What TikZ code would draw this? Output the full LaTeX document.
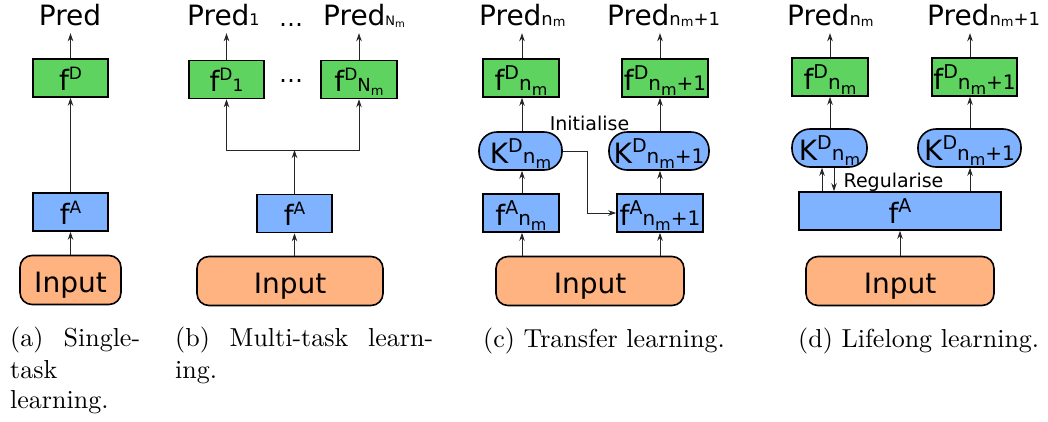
\documentclass[tikz,border=0pt]{standalone}
\usepackage{fontspec}
\newfontfamily\dv{DejaVu Sans}
\newfontfamily\cmten{lmroman10-regular.otf}
\usetikzlibrary{arrows.meta}
\definecolor{gD}{HTML}{5FD35F}
\definecolor{bA}{HTML}{80B3FF}
\definecolor{oI}{HTML}{FFB380}
\newcommand{\Sp}[2][17]{\raisebox{11pt}{\fontsize{#1}{#1}\selectfont #2}}
\newcommand{\Sb}[2][17]{{\fontsize{#1}{#1}\selectfont #2}}
\newcommand{\Mm}[2][16]{\raisebox{-5pt}{\fontsize{#1}{#1}\selectfont #2}}
\newcommand{\Mp}[2][13]{\raisebox{-1.5pt}{\fontsize{#1}{#1}\selectfont #2}}
\tikzset{
  box/.style={draw, line width=1.6pt, inner sep=0pt, text height=24pt, text depth=0pt,
    font=\dv\fontsize{28}{28}\selectfont, minimum height=38pt},
  gbox/.style={box, fill=gD},
  abox/.style={box, fill=bA},
  pill/.style={box, fill=bA, rounded corners=18pt},
  inbox/.style={box, fill=oI, rounded corners=12pt, minimum height=49pt},
  pred/.style={font=\dv\fontsize{28}{28}\selectfont, inner xsep=0pt, inner ysep=8pt,
    text depth=0pt, anchor=base west},
  lbl/.style={font=\dv\fontsize{19}{19}\selectfont, inner sep=0pt, anchor=base},
  arr/.style={-{Stealth[length=8pt,width=5.5pt,inset=2.5pt]}, line width=0.9pt, draw=black!85},
  captxt/.style={font=\cmten\fontsize{26}{31}\selectfont, inner sep=0pt, anchor=base west},
}
\begin{document}
\begin{tikzpicture}[x=1pt,y=-1pt]
\useasboundingbox (0,0) rectangle (1048,421);

% ---------- panel a ----------
\node[pred, anchor=base] (predA) at (70,25) {Pred};
\node[gbox, minimum width=75pt] (fDa) at (70.5,78) {f\Sp{D}};
\node[abox, minimum width=75pt] (fAa) at (70.5,212) {f\Sp{A}};
\node[inbox, minimum width=101pt] (inA) at (70.5,280) {Input};
\draw[arr] (inA.north) -- (fAa.south);
\draw[arr] (fAa.north) -- (fDa.south);
\draw[arr] (fDa.north) -- (fDa.north |- predA.south);

% ---------- panel b ----------
\node[pred] (predB1) at (187,25) {Pred\Sb[16]{1}};
\node[font=\dv\fontsize{24}{24}\selectfont, inner sep=0pt, anchor=base] (dotsB1) at (291,26) {…};
\node[pred] (predBN) at (323,25) {Pred\Sb[13]{N}\raisebox{-2pt}{\fontsize{10}{10}\selectfont m}};
\node[gbox, minimum width=75pt] (fDb1) at (226.5,79.5) {f\Sp{D}\Sb{1}};
\node[font=\dv\fontsize{24}{24}\selectfont, inner sep=0pt, anchor=base] (dotsB2) at (291,82) {…};
\node[gbox, minimum width=76pt] (fDbN) at (359,79.5) {f\Sp{D}\Sb[18]{N}\raisebox{-4pt}{\fontsize{13}{13}\selectfont m}};
\node[abox, minimum width=75pt] (fAb) at (294.5,213.5) {f\Sp{A}};
\node[inbox, minimum width=186pt] (inB) at (290,281) {Input};
\coordinate (brB) at (294.5,150);
\draw[arr] (inB.north -| fAb) -- (fAb.south);
\draw[arr] (fAb.north) -- (brB);
\draw[arr] (brB) -| (fDb1.south);
\draw[arr] (brB) -| (fDbN.south);
\draw[arr] (fDb1.north) -- (fDb1.north |- predB1.south);
\draw[arr] (fDbN.north) -- (fDbN.north |- predBN.south);

% ---------- panel c ----------
\coordinate (colC1) at (522,0);
\coordinate (colC2) at (660,0);
\node[pred] (predC1) at (479,25) {Pred\Sb[18]{n}\Mp{m}};
\node[pred] (predC2) at (607,25) {Pred\Sb[18]{n}\Mp{m}\Sb[18]{+1}};
\node[gbox, minimum width=76pt] (fDc1) at (521,78) {f\Sp[19]{D}\Sb[20]{n}\Mm{m}};
\node[gbox, minimum width=86pt] (fDc2) at (665,78) {f\Sp[19]{D}\Sb[20]{n}\Mm{m}\Sb[20]{+1}};
\node[pill, minimum width=83pt] (kC1) at (520.5,151) {K\Sp[19]{D}\Sb[20]{n}\Mm{m}};
\node[pill, minimum width=100pt] (kC2) at (659,151) {K\Sp[19]{D}\Sb[20]{n}\Mm{m}\Sb[20]{+1}};
\node[lbl] (initL) at (589.5,130) {Initialise};
\node[abox, minimum width=76pt] (fAc1) at (521,213) {f\Sp[19]{A}\Sb[20]{n}\Mm{m}};
\node[abox, minimum width=86pt] (fAc2) at (660,213) {f\Sp[19]{A}\Sb[20]{n}\Mm{m}\Sb[20]{+1}};
\node[inbox, minimum width=188pt] (inC) at (590,281) {Input};
\coordinate (cornC) at (587,213);
\draw[arr] (inC.north -| colC1) -- (fAc1.south -| colC1);
\draw[arr] (inC.north -| colC2) -- (fAc2.south -| colC2);
\draw[arr] (fAc1.north -| colC1) -- (kC1.south -| colC1);
\draw[arr] (fAc2.north -| colC2) -- (kC2.south -| colC2);
\draw[arr] (kC1.north -| colC1) -- (fDc1.south -| colC1);
\draw[arr] (kC2.north -| colC2) -- (fDc2.south -| colC2);
\draw[arr] (fDc1.north -| colC1) -- (predC1.south -| colC1);
\draw[arr] (fDc2.north -| colC2) -- (predC2.south -| colC2);
\draw[arr] (kC1.east) -| (cornC) -- (fAc2.west);

% ---------- panel d ----------
\coordinate (colD1) at (830,0);
\coordinate (colD2) at (970,0);
\coordinate (colDu) at (822,0);
\coordinate (colDd) at (834,0);
\node[pred] (predD1) at (787,25) {Pred\Sb[18]{n}\Mp{m}};
\node[pred] (predD2) at (927,25) {Pred\Sb[18]{n}\Mp{m}\Sb[18]{+1}};
\node[gbox, minimum width=76pt] (fDd1) at (830,77) {f\Sp[19]{D}\Sb[20]{n}\Mm{m}};
\node[gbox, minimum width=85pt] (fDd2) at (974.5,77) {f\Sp[19]{D}\Sb[20]{n}\Mm{m}\Sb[20]{+1}};
\node[pill, minimum width=75pt] (kD1) at (829.5,148) {K\Sp[19]{D}\Sb[20]{n}\Mm{m}};
\node[pill, minimum width=103pt] (kD2) at (969.5,148) {K\Sp[19]{D}\Sb[20]{n}\Mm{m}\Sb[20]{+1}};
\node[lbl] (regL) at (893.5,187) {Regularise};
\node[abox, minimum width=202pt] (fAd) at (900,211) {f\Sp[19]{A}};
\node[inbox, minimum width=188pt] (inD) at (900,281) {Input};
\draw[arr] (inD.north) -- (fAd.south);
\draw[arr] (fAd.north -| colDu) -- (kD1.south -| colDu);
\draw[arr] (kD1.south -| colDd) -- (fAd.north -| colDd);
\draw[arr] (fAd.north -| colD2) -- (kD2.south -| colD2);
\draw[arr] (kD1.north -| colD1) -- (fDd1.south -| colD1);
\draw[arr] (kD2.north -| colD2) -- (fDd2.south -| colD2);
\draw[arr] (fDd1.north -| colD1) -- (predD1.south -| colD1);
\draw[arr] (fDd2.north -| colD2) -- (predD2.south -| colD2);

% ---------- captions ----------
\node[captxt] (capA1) at (10,346) {\makebox[130pt][s]{(a) Single-}};
\node[captxt] (capA2) at (10,378) {task};
\node[captxt] (capA3) at (10,408) {learning.};
\node[captxt] (capB1) at (175,346) {\makebox[258pt][s]{(b) Multi-task learn-}};
\node[captxt] (capB2) at (175,378) {ing.};
\node[captxt] (capC) at (483,347) {(c) Transfer learning.};
\node[captxt] (capD) at (798,347) {(d) Lifelong learning.};
\end{tikzpicture}
\end{document}
